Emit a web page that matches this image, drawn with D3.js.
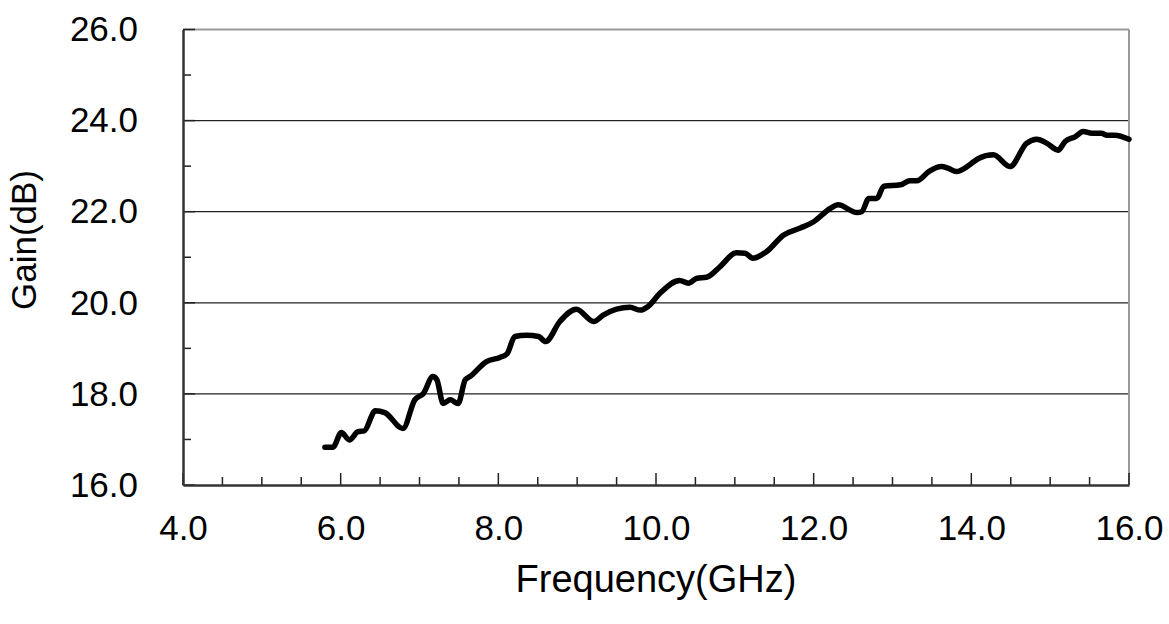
<!DOCTYPE html>
<html>
<head>
<meta charset="utf-8">
<script src="https://cdn.jsdelivr.net/npm/d3@7"></script>
<style>
  body { margin: 0; background: #fff; }
  text { font-family: "Liberation Sans", Arial, sans-serif; }
</style>
</head>
<body>
<div id="chart"></div>
<script>
const W = 1169, H = 624;

const freqGHz = [5.80, 5.90, 6.01, 6.11, 6.22, 6.30, 6.44, 6.56, 6.79, 6.94, 7.05, 7.17, 7.22, 7.30, 7.39, 7.49, 7.58, 7.64, 7.85, 8.02,
  8.11, 8.21, 8.36, 8.51, 8.60, 8.78, 8.99, 9.21, 9.33, 9.50, 9.67, 9.80, 9.90, 10.05, 10.30, 10.41, 10.52, 10.64, 10.81, 11.02,
  11.13, 11.23, 11.40, 11.62, 11.83, 12.00, 12.21, 12.31, 12.55, 12.61, 12.70, 12.80, 12.89, 13.10, 13.22, 13.31, 13.46, 13.62, 13.71, 13.81,
  13.98, 14.09, 14.28, 14.49, 14.70, 14.83, 14.96, 15.10, 15.19, 15.32, 15.42, 15.53, 15.65, 15.72, 15.82, 16.00];
const gainDb = [16.83, 16.83, 17.15, 16.99, 17.17, 17.19, 17.63, 17.59, 17.24, 17.87, 18.01, 18.38, 18.31, 17.79, 17.87, 17.79, 18.31, 18.38, 18.71, 18.80,
  18.88, 19.26, 19.29, 19.26, 19.15, 19.59, 19.86, 19.59, 19.73, 19.86, 19.90, 19.84, 19.92, 20.21, 20.49, 20.43, 20.54, 20.56, 20.79, 21.10,
  21.09, 20.98, 21.12, 21.49, 21.64, 21.78, 22.07, 22.15, 21.98, 22.00, 22.29, 22.29, 22.56, 22.59, 22.68, 22.68, 22.88, 22.99, 22.95, 22.88,
  23.03, 23.17, 23.25, 22.99, 23.50, 23.59, 23.50, 23.35, 23.54, 23.65, 23.76, 23.72, 23.72, 23.68, 23.68, 23.59];

const xTicks = [4, 6, 8, 10, 12, 14, 16];
const xMinorTicks = d3.range(4, 16.01, 0.5);
const yTicks = [16, 18, 20, 22, 24, 26];
const yMinorTicks = d3.range(16, 26.01, 1);

const svg = d3.select('#chart')
  .append('svg')
  .attr('width', W)
  .attr('height', H);

svg.append('rect').attr('width', W).attr('height', H).attr('fill', '#fff');

const x = d3.scaleLinear().domain([4, 16]).range([183, 1129]);
const y = d3.scaleLinear().domain([16, 26]).range([485, 29.5]);

// grid
svg.append('g')
  .selectAll('line')
  .data(yTicks.filter(d => d > 16 && d < 26))
  .join('line')
  .attr('x1', x(4)).attr('x2', x(16))
  .attr('y1', d => y(d)).attr('y2', d => y(d))
  .attr('stroke', '#222').attr('stroke-width', 1.2);

// frame top/right
svg.append('line').attr('x1', x(4)).attr('x2', x(16)).attr('y1', y(26)).attr('y2', y(26))
  .attr('stroke', '#999').attr('stroke-width', 2);
svg.append('line').attr('x1', x(16)).attr('x2', x(16)).attr('y1', y(26)).attr('y2', y(16))
  .attr('stroke', '#999').attr('stroke-width', 2);

// ticks, pointing inside
svg.append('g').selectAll('line').data(yMinorTicks).join('line')
  .attr('x1', x(4)).attr('x2', d => x(4) + (d % 2 === 0 ? 12 : 8))
  .attr('y1', d => y(d)).attr('y2', d => y(d))
  .attr('stroke', '#222').attr('stroke-width', 1.5);
svg.append('g').selectAll('line').data(xMinorTicks).join('line')
  .attr('x1', d => x(d)).attr('x2', d => x(d))
  .attr('y1', y(16)).attr('y2', d => y(16) - (d % 2 === 0 ? 12 : 8))
  .attr('stroke', '#222').attr('stroke-width', 1.5);

// axes
const yAxis = svg.append('g')
  .attr('transform', `translate(${x(4)},0)`)
  .call(d3.axisLeft(y).tickValues(yTicks).tickSize(0).tickPadding(45).tickFormat(d3.format('.1f')));
const xAxis = svg.append('g')
  .attr('transform', `translate(0,${y(16)})`)
  .call(d3.axisBottom(x).tickValues(xTicks).tickSize(0).tickPadding(30).tickFormat(d3.format('.1f')));

[xAxis, yAxis].forEach(a => {
  a.select('.domain').attr('stroke', '#333').attr('stroke-width', 2.5);
  a.selectAll('text').style('font-size', '35px').attr('fill', '#000');
});

svg.append('text')
  .attr('transform', `translate(36,240) rotate(-90)`)
  .attr('text-anchor', 'middle')
  .style('font-size', '35px')
  .text('Gain(dB)');

svg.append('text')
  .attr('x', 656).attr('y', 592)
  .attr('text-anchor', 'middle')
  .style('font-size', '38px')
  .text('Frequency(GHz)');

// curve
const pts = freqGHz.map((f, i) => [f, gainDb[i]]);
svg.append('path')
  .datum(pts)
  .attr('fill', 'none')
  .attr('stroke', '#000')
  .attr('stroke-width', 5.5)
  .attr('stroke-linejoin', 'round')
  .attr('stroke-linecap', 'round')
  .attr('d', d3.line().x(d => x(d[0])).y(d => y(d[1])).curve(d3.curveMonotoneX));
</script>
</body>
</html>
